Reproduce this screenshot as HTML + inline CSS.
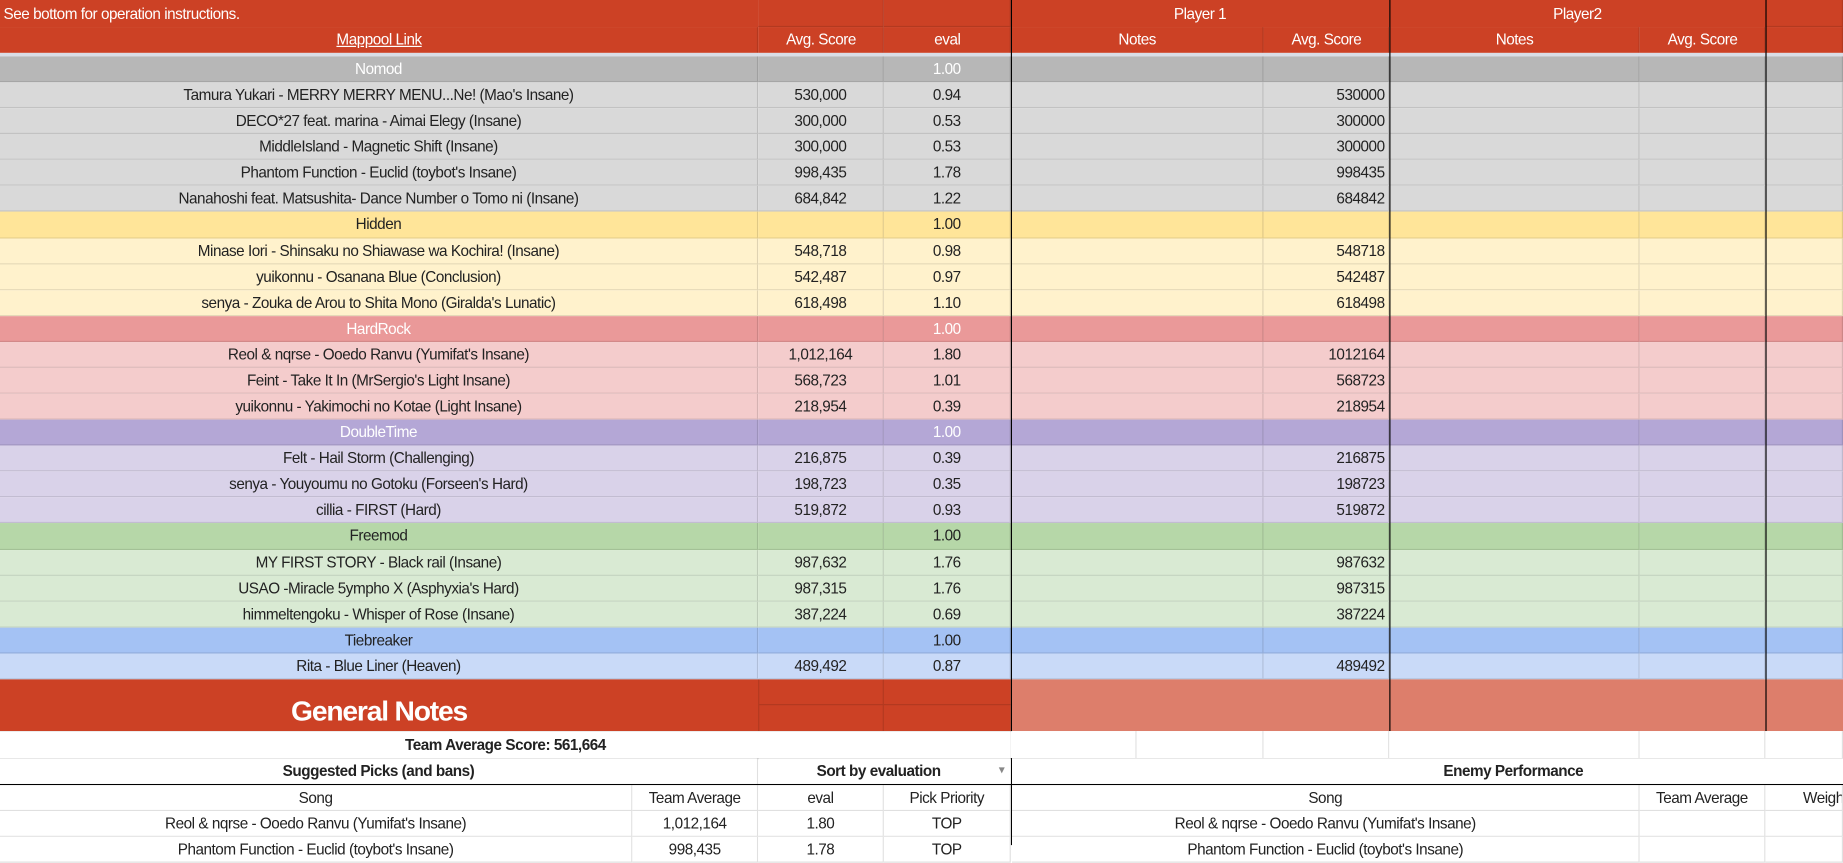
<!DOCTYPE html>
<html><head><meta charset="utf-8">
<style>
html,body{margin:0;padding:0;width:1843px;height:845px;overflow:hidden;background:#fff;}
#wrap{position:absolute;left:0;top:0;width:1568px;height:719px;transform:scale(1.17538);transform-origin:0 0;font-family:"Liberation Sans",sans-serif;font-size:13px;color:#222;letter-spacing:-0.4px;}
.c{position:absolute;box-sizing:border-box;white-space:nowrap;overflow:hidden;line-height:22px;text-align:center;}
.r{text-align:right;padding-right:3px;}
.l{text-align:left;padding-left:3px;}
.vl{position:absolute;width:1px;background:#000;}
.hl{position:absolute;height:1px;background:#000;}
.b{font-weight:bold;}
</style></head>
<body>
<div id="wrap"></div>
<script>
const sections=[
 {name:"Nomod",hc:"#b7b7b7",rc:"#d9d9d9",ht:"#fff"},
 {name:"Hidden",hc:"#ffe599",rc:"#fff2cc",ht:"#222"},
 {name:"HardRock",hc:"#ea9999",rc:"#f4cccc",ht:"#fff"},
 {name:"DoubleTime",hc:"#b4a7d6",rc:"#d9d2e9",ht:"#fff"},
 {name:"Freemod",hc:"#b6d7a8",rc:"#d9ead3",ht:"#222"},
 {name:"Tiebreaker",hc:"#a4c2f4",rc:"#c9daf8",ht:"#222"}
];
const songs=[
 ["Tamura Yukari - MERRY MERRY MENU...Ne! (Mao's Insane)","530,000","0.94","530000",0],
 ["DECO*27 feat. marina - Aimai Elegy (Insane)","300,000","0.53","300000",0],
 ["MiddleIsland - Magnetic Shift (Insane)","300,000","0.53","300000",0],
 ["Phantom Function - Euclid (toybot's Insane)","998,435","1.78","998435",0],
 ["Nanahoshi feat. Matsushita- Dance Number o Tomo ni (Insane)","684,842","1.22","684842",0],
 ["Minase Iori - Shinsaku no Shiawase wa Kochira! (Insane)","548,718","0.98","548718",1],
 ["yuikonnu - Osanana Blue (Conclusion)","542,487","0.97","542487",1],
 ["senya - Zouka de Arou to Shita Mono (Giralda's Lunatic)","618,498","1.10","618498",1],
 ["Reol & nqrse - Ooedo Ranvu (Yumifat's Insane)","1,012,164","1.80","1012164",2],
 ["Feint - Take It In (MrSergio's Light Insane)","568,723","1.01","568723",2],
 ["yuikonnu - Yakimochi no Kotae (Light Insane)","218,954","0.39","218954",2],
 ["Felt - Hail Storm (Challenging)","216,875","0.39","216875",3],
 ["senya - Youyoumu no Gotoku (Forseen's Hard)","198,723","0.35","198723",3],
 ["cillia - FIRST (Hard)","519,872","0.93","519872",3],
 ["MY FIRST STORY - Black rail (Insane)","987,632","1.76","987632",4],
 ["USAO -Miracle 5ympho X (Asphyxia's Hard)","987,315","1.76","987315",4],
 ["himmeltengoku - Whisper of Rose (Insane)","387,224","0.69","387224",4],
 ["Rita - Blue Liner (Heaven)","489,492","0.87","489492",5]
];
const W=document.getElementById('wrap');
function cell(x,y,w,h,txt,bg,cls,name,extra){
 const d=document.createElement('div');
 d.className='c '+(cls||'');
 d.style.left=x+'px';d.style.top=y+'px';d.style.width=w+'px';d.style.height=h+'px';d.style.lineHeight=h+'px';
 if(bg)d.style.background=bg;
 if(extra)Object.assign(d.style,extra);
 d.textContent=txt||'';
 
 
 W.appendChild(d);return d;
}
function line(cls,x,y,len,color,name){
 const d=document.createElement('div');d.className=cls;
 d.style.left=x+'px';d.style.top=y+'px';
 if(cls==='vl')d.style.height=len+'px';else d.style.width=len+'px';
 if(color)d.style.background=color;
 
 
 W.appendChild(d);
}
const cols=[0,645,752,860,1075,1182,1395,1502,1568];
const red="#cc4125";
const grid="1px solid rgba(0,0,0,0.12)";
// header rows
for(let i=0;i<8;i++){
 cell(cols[i],0,cols[i+1]-cols[i],23,'',red,'','header-cell',{borderRight:grid,borderBottom:grid});
 cell(cols[i],23,cols[i+1]-cols[i],22,'',red,'','header-cell',{borderRight:grid});
}
cell(0,0,645,23,'See bottom for operation instructions.',red,'l','instructions-note',{color:'#fff'});
cell(860,0,322,23,'Player 1',red,'','player1-header',{color:'#fff'});
cell(1182,0,320,23,'Player2',red,'','player2-header',{color:'#fff'});
cell(0,23,645,22,'Mappool Link',null,'','mappool-link',{color:'#fff',textDecoration:'underline'});
const h2=['Avg. Score','eval','Notes','Avg. Score','Notes','Avg. Score'];
for(let i=0;i<6;i++)cell(cols[i+1],23,cols[i+2]-cols[i+1],22,h2[i],null,'','column-header',{color:'#fff'});
cell(0,45,1568,3,'','#d9dde6','','header-gap');
// body rows
const RH=22.08;let y=48;let sec=-1;
function row(bg,vals,name,tc){
 for(let i=0;i<8;i++){
  let t='',cls='';
  if(i===0)t=vals[0];
  if(i===1)t=vals[1];
  if(i===2)t=vals[2];
  if(i===4){t=vals[3]||'';cls='r';}
  cell(cols[i],y,cols[i+1]-cols[i],RH,t,bg,cls,name+'-cell',{borderRight:grid,borderBottom:'1px solid rgba(0,0,0,0.1)',color:tc||'#222'});
 }
 y+=RH;
}
songs.forEach(s=>{
 if(s[4]!==sec){sec=s[4];const S=sections[sec];row(S.hc,[S.name,'','1.00'],'section-'+S.name.toLowerCase(),S.ht);}
 row(sections[sec].rc,s,'song-row');
});
// general notes
const gy=y;
cell(0,gy,860,622-gy,'',red,'','general-notes-block');
cell(645,gy,107,22,'',null,'','gn-cell',{borderRight:grid,borderBottom:grid,borderLeft:grid});
cell(752,gy,108,22,'',null,'','gn-cell',{borderBottom:grid});
cell(645,gy+22,107,622-gy-22,'',null,'','gn-cell',{borderRight:grid,borderLeft:grid});
cell(0,gy,645,622-gy,'General Notes',null,'b','general-notes-title',{color:'#fff',fontSize:'24px',paddingTop:'6px',letterSpacing:'-1px'});
cell(860,gy,708,622-gy,'','#dd7e6b','','player-notes-block');
// black separators
line('vl',860,0,719,'#000','player1-border');
line('vl',1182,0,622,'#000','player2-border');
line('vl',1502,0,622,'#000','player-end-border');
line('hl',0,622,860,'#000','notes-bottom-border');
// right blank grid row
[860,967,1075,1182,1395,1502].forEach((x,i,a)=>{cell(x,622,(a[i+1]||1568)-x,23,'','#fff','','blank-cell',{borderRight:grid});});
cell(0,622,860,23,'Team Average Score: 561,664','#fff','b','team-average-score');
line('hl',0,645,1568,'#000','suggested-top-border');
cell(0,645,645,22,'Suggested Picks (and bans)','#fff','b','suggested-picks-title',{borderRight:grid});
cell(645,645,215,22,'Sort by evaluation','#fff','b','sort-dropdown',{paddingRight:'10px'});
cell(846,645,12,22,'▾',null,'','dropdown-arrow',{color:'#888',fontSize:'10px'});
cell(861,645,707,22,'Enemy Performance','#fff','b','enemy-performance-title',{paddingLeft:'146px'});
line('hl',0,667,1568,'#000','subheader-border');
const sc=[0,538,645,752,860,1395,1502,1568];
const hdr=['Song','Team Average','eval','Pick Priority','Song','Team Average','Weight'];
const r1=["Reol & nqrse - Ooedo Ranvu (Yumifat's Insane)","1,012,164","1.80","TOP","Reol & nqrse - Ooedo Ranvu (Yumifat's Insane)","",""];
const r2=["Phantom Function - Euclid (toybot's Insane)","998,435","1.78","TOP","Phantom Function - Euclid (toybot's Insane)","",""];
[[668,hdr,'pick-header'],[690,r1,'pick-row'],[712,r2,'pick-row']].forEach(([yy,v,n])=>{
 for(let i=0;i<7;i++){
  const d=cell(sc[i]+(i===4?1:0),yy,sc[i+1]-sc[i]-(i===4?1:0),22,v[i],'#fff','',n+'-cell',{borderRight:grid,borderBottom:grid});
  if(i===6&&n==='pick-header'){d.style.textAlign='left';d.style.paddingLeft='32px';}
 }
});
</script>
</body></html>
